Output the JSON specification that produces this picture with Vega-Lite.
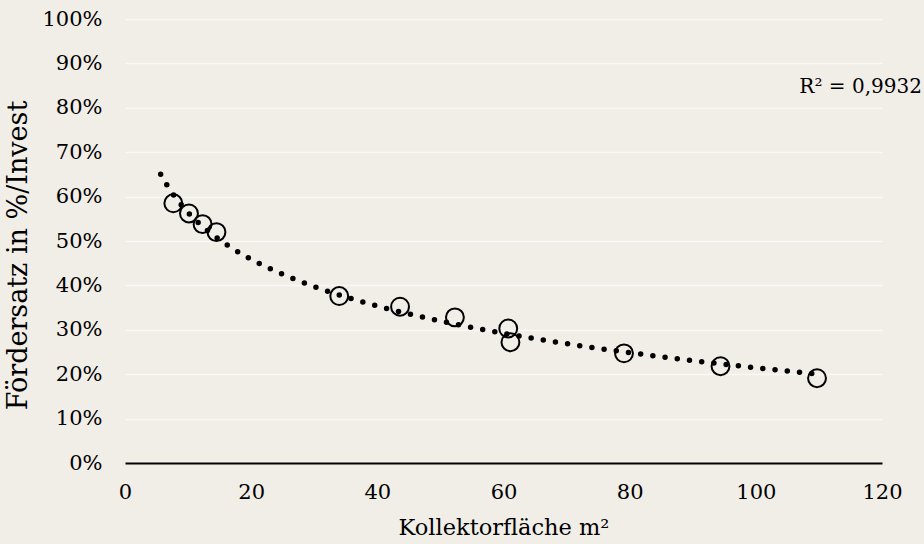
{
  "$schema": "https://vega.github.io/schema/vega-lite/v6.json",
  "width": 757,
  "height": 444,
  "autosize": {"type": "none"},
  "padding": {"left": 125, "top": 19, "right": 42, "bottom": 81},
  "background": "#f1eee8",
  "config": {
    "view": {"stroke": null},
    "font": "DejaVu Serif",
    "axis": {"labelFont": "DejaVu Serif", "titleFont": "DejaVu Serif", "labelColor": "#000", "titleColor": "#000", "titleFontWeight": "normal"}
  },
  "data": {
    "values": [
      {"x": 7.66, "y": 0.585},
      {"x": 10.14, "y": 0.562},
      {"x": 12.3, "y": 0.538},
      {"x": 14.5, "y": 0.520},
      {"x": 33.96, "y": 0.376},
      {"x": 43.6, "y": 0.352},
      {"x": 52.3, "y": 0.328},
      {"x": 60.75, "y": 0.303},
      {"x": 61.1, "y": 0.272},
      {"x": 79.1, "y": 0.247},
      {"x": 94.4, "y": 0.218},
      {"x": 109.7, "y": 0.191}
    ]
  },
  "layer": [
    {
      "mark": {"type": "point", "shape": "circle", "filled": false, "color": "#000", "strokeWidth": 2, "size": 320, "opacity": 1},
      "encoding": {
        "x": {
          "field": "x", "type": "quantitative",
          "scale": {"domain": [0, 120], "nice": false},
          "axis": {
            "values": [0, 20, 40, 60, 80, 100, 120],
            "title": "Kollektorfläche m²",
            "grid": false, "ticks": false, "labelFlush": false,
            "domainColor": "#000", "domainWidth": 2,
            "labelFontSize": 21, "labelPadding": 18,
            "titleFontSize": 22.5, "titlePadding": 14
          }
        },
        "y": {
          "field": "y", "type": "quantitative",
          "scale": {"domain": [0, 1], "nice": false},
          "axis": {
            "values": [0, 0.1, 0.2, 0.3, 0.4, 0.5, 0.6, 0.7, 0.8, 0.9, 1],
            "format": ".0%",
            "title": "Fördersatz in %/Invest",
            "domain": false, "ticks": false,
            "grid": true, "gridColor": "#f9f8f5", "gridWidth": 1.5,
            "labelFontSize": 21, "labelPadding": 23,
            "titleFontSize": 27, "titlePadding": 9, "titleY": 236
          }
        }
      }
    },
    {
      "transform": [{"regression": "y", "on": "x", "method": "log", "extent": [5.65, 109.7]}],
      "mark": {"type": "line", "color": "#000", "strokeWidth": 5.5, "strokeCap": "round", "strokeDash": [0, 12.3]},
      "encoding": {
        "x": {"field": "x", "type": "quantitative"},
        "y": {"field": "y", "type": "quantitative"}
      }
    },
    {
      "data": {"values": [{"label": "R² = 0,9932", "x": 106.9, "y": 0.847}]},
      "mark": {"type": "text", "align": "left", "baseline": "middle", "fontSize": 20, "color": "#000", "font": "DejaVu Serif"},
      "encoding": {
        "x": {"field": "x", "type": "quantitative"},
        "y": {"field": "y", "type": "quantitative"},
        "text": {"field": "label"}
      }
    }
  ]
}
